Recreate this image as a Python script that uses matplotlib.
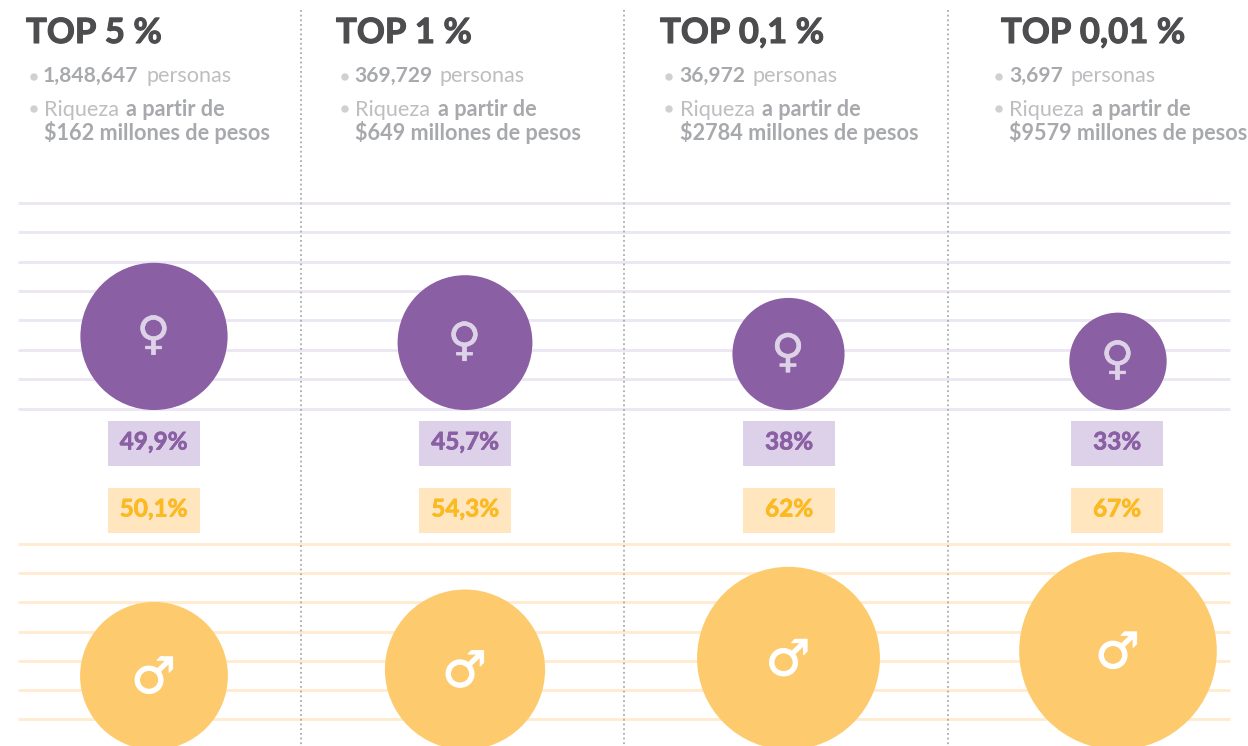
import matplotlib
matplotlib.use("Agg")
import matplotlib.pyplot as plt
import matplotlib.patheffects as pe
from matplotlib.patches import Circle, Rectangle

# ---- data ----
titles = ["TOP 5 %", "TOP 1 %", "TOP 0,1 %", "TOP 0,01 %"]
people = ["1,848,647", "369,729", "36,972", "3,697"]
wealth = ["$162", "$649", "$2784", "$9579"]
women_pct = [49.9, 45.7, 38, 33]
men_pct = [50.1, 54.3, 62, 67]
women_labels = ["49,9%", "45,7%", "38%", "33%"]
men_labels = ["50,1%", "54,3%", "62%", "67%"]

# ---- layout (pixels) ----
W, H = 1248, 746
title_x = [26, 336, 660, 1001]
text_x = [44, 355, 680, 1009]
bullet_x = [34, 345, 669, 999]
centers = [154, 465, 788.5, 1118]
badge_cx = [153.5, 465, 789, 1117]
dividers = [301, 624, 948]
purple_lines = [203, 232, 262, 291, 320, 350, 379, 408.5]
yellow_lines = [544, 573, 602, 632, 661, 690, 719]
RADIUS_PER_PCT = 1.475
WOMEN_BASE, MEN_BASE = 410, 749.7

PURPLE, YELLOW = "#8a5fa3", "#fdcb6e"
FONT = "Lato"

fig = plt.figure(figsize=(W / 100, H / 100), dpi=100, facecolor="white")
ax = fig.add_axes([0, 0, 1, 1])
ax.set_xlim(0, W)
ax.set_ylim(H, 0)
ax.axis("off")


def heavy(color, w=0.5):
    return [pe.withStroke(linewidth=w, foreground=color)]


def runs(x, y, parts, gap=7.5):
    """Draw consecutive text runs of differing weight on one baseline."""
    r = fig.canvas.get_renderer()
    for s, weight, color, size in parts:
        t = ax.text(x, y, s, fontsize=size, fontweight=weight, color=color,
                    family=FONT, va="baseline", ha="left", zorder=5)
        x += t.get_window_extent(r).width + gap


for y in purple_lines:
    ax.plot([18, 1230], [y, y], color="#ede6f4", lw=2.1, zorder=1, solid_capstyle="butt")
for y in yellow_lines:
    ax.plot([18, 1230], [y, y], color="#ffecd0", lw=2.1, zorder=1, solid_capstyle="butt")
for x in dividers:
    ax.plot([x, x], [10, H], color="#a9abae", lw=1.3, ls=(0, (1, 1.6)), zorder=2)

BOLD, REG = "#a7a9ac", "#bcbec0"
for i in range(4):
    ax.text(title_x[i], 43, titles[i], fontsize=25, fontweight="bold", color="#4d4d4f",
            family=FONT, va="baseline", ha="left", zorder=5,
            path_effects=heavy("#4d4d4f", 0.8))
    ax.add_patch(Circle((bullet_x[i], 77), 3, color="#cfd0d2", zorder=4))
    ax.add_patch(Circle((bullet_x[i], 109), 3, color="#cfd0d2", zorder=4))
    runs(text_x[i] - (1 if i < 3 else 0), 82,
         [(people[i], "bold", BOLD, 15.1), ("personas", "normal", REG, 15.6)])
    runs(text_x[i], 115.5, [("Riqueza", "normal", REG, 15.6), ("a partir de", "bold", BOLD, 15.6)])
    runs(text_x[i], 140.5, [(wealth[i] + " millones de pesos", "bold", BOLD, 15.6)])

    rw = women_pct[i] * RADIUS_PER_PCT
    rm = men_pct[i] * RADIUS_PER_PCT
    cw = WOMEN_BASE - rw
    cm = MEN_BASE - rm
    ax.add_patch(Circle((centers[i], cw), rw, color=PURPLE, lw=0, zorder=3))
    ax.add_patch(Circle((centers[i], cm), rm, color=YELLOW, lw=0, zorder=3))
    ax.text(centers[i] - 0.5, cw, "\u2640", fontsize=33, color="#ddd2e8", family="DejaVu Sans",
            ha="center", va="center", zorder=5, path_effects=heavy("#ddd2e8", 0.4))
    ax.text(centers[i] - 0.5, cm + 3, "\u2642", fontsize=36, color="white", family="DejaVu Sans",
            ha="center", va="center", zorder=5, path_effects=heavy("white", 0.7))

    ax.add_patch(Rectangle((badge_cx[i] - 46, 421), 92, 45, color="#dcd1e8", lw=0, zorder=3))
    ax.add_patch(Rectangle((badge_cx[i] - 46, 488), 92, 45, color="#ffe6bf", lw=0, zorder=3))
    ax.text(badge_cx[i], 449.5, women_labels[i], fontsize=17.5, fontweight="bold", color=PURPLE,
            family=FONT, ha="center", va="baseline", zorder=5, path_effects=heavy(PURPLE))
    ax.text(badge_cx[i], 516.5, men_labels[i], fontsize=17.5, fontweight="bold", color="#fbb922",
            family=FONT, ha="center", va="baseline", zorder=5, path_effects=heavy("#fbb922"))

fig.savefig("out.png", dpi=100, facecolor="white")
